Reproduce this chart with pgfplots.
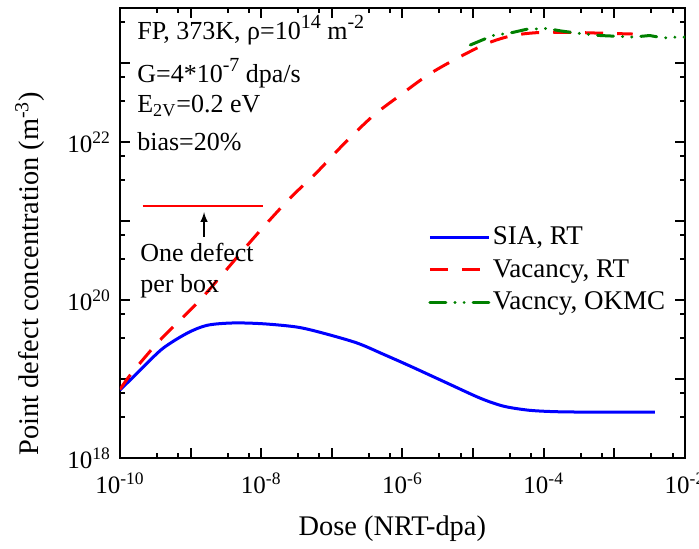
\documentclass[border=0pt]{standalone}
\usepackage{fontspec}
\setmainfont{Liberation Serif}
\usepackage{pgfplots}
\pgfplotsset{compat=1.18}
\definecolor{cblue}{RGB}{0,0,255}
\definecolor{cred}{RGB}{255,0,0}
\definecolor{cgreen}{RGB}{0,128,0}
\newcommand{\sups}[1]{\raisebox{0.42em}{\fontsize{10}{10}\selectfont #1}}
\begin{document}
\fontsize{13}{16}\selectfont
\begin{tikzpicture}[font=\fontsize{13}{16}\selectfont]
\useasboundingbox (-60pt,-45pt) rectangle (289.5pt,229pt);
\begin{axis}[
  at={(0,0)}, anchor=south west,
  scale only axis, width=282.5pt, height=225pt,
  xmode=log, ymode=log,
  xmin=1e-10, xmax=1e-2, ymin=1e18, ymax=5e23,
  axis line style={line width=1.4pt},
  every tick/.style={black, line width=1pt},
  major tick length=5pt, minor tick length=2.5pt,
  tick align=inside,
  xtick={1e-10,1e-9,1e-8,1e-7,1e-6,1e-5,1e-4,1e-3,1e-2},
  xticklabels={10\textsuperscript{-10},,10\textsuperscript{-8},,10\textsuperscript{-6},,10\textsuperscript{-4},,10\textsuperscript{-2}},
  minor xtick={3.33e-10,6.67e-10,3.33e-9,6.67e-9,3.33e-8,6.67e-8,3.33e-7,6.67e-7,3.33e-6,6.67e-6,3.33e-5,6.67e-5,3.33e-4,6.67e-4,3.33e-3,6.67e-3},
  ytick={1e18,1e19,1e20,1e21,1e22,1e23},
  yticklabels={10\textsuperscript{18},,10\textsuperscript{20},,10\textsuperscript{22},},
  minor ytick={3.33e18,6.67e18,3.33e19,6.67e19,3.33e20,6.67e20,3.33e21,6.67e21,3.33e22,6.67e22,3.33e23},
  tick label style={font=\fontsize{12.5}{15}\selectfont},
  xticklabel style={yshift=-3pt},
  xlabel={Dose (NRT-dpa)},
  ylabel={Point defect concentration (m\textsuperscript{-3})},
  label style={font=\fontsize{14.2}{17}\selectfont},
  xlabel style={at={(axis description cs:0.482,-0.158)}, anchor=center},
  ylabel style={at={(axis description cs:-0.159,0.41)}, anchor=center},
  legend style={draw=none, fill=none, at={(0.545,0.528)}, anchor=north west,
    inner sep=0pt, font=\fontsize{13.5}{16}\selectfont,
    nodes={text height=10.5pt, text depth=3.3pt, inner sep=1.3pt}},
  legend cell align=left,
  legend image code/.code={\draw[#1] (0pt,0pt) -- (29.5pt,0pt);},
]
\addplot[cblue, line width=1.5pt, smooth] coordinates {
(1e-10,7.24e18) (2.12e-10,1.41e19) (4.06e-10,2.45e19) (8.89e-10,3.80e19)
(1.71e-9,4.79e19) (3.98e-9,5.13e19) (1.06e-8,5.01e19) (3.21e-8,4.55e19)
(7.48e-8,3.82e19) (2.27e-7,2.86e19) (5.30e-7,2.07e19) (1.28e-6,1.46e19)
(4.27e-6,8.9e18) (1.25e-5,5.74e18) (2.65e-5,4.55e18) (5.79e-5,4.05e18)
(1.23e-4,3.88e18) (3.26e-4,3.82e18) (3.76e-3,3.82e18)
};
\addlegendentry{SIA, RT}
\addplot[cred, line width=1.5pt, smooth, dash pattern=on 9pt off 7pt] coordinates {
(1e-10,7.4e18) (1.48e-10,1.2e19) (3.68e-10,3.1e19) (1.23e-9,9.12e19)
(2.61e-9,1.95e20) (5.52e-9,4.27e20) (1.06e-8,8.32e20) (2.55e-8,1.95e21)
(6.17e-8,4.17e21) (1.45e-7,9.33e21) (3.80e-7,2.14e22) (9.12e-7,3.89e22)
(2.29e-6,7.08e22) (5.89e-6,1.15e23) (1.58e-5,1.78e23) (3.63e-5,2.24e23)
(8.91e-5,2.45e23) (2.57e-4,2.45e23) (6.31e-4,2.40e23) (1.82e-3,2.34e23)
};
\addlegendentry{Vacancy, RT}
\addplot[cgreen, line width=1.5pt, line cap=round,
  dash pattern=on 8pt off 4.5pt on 0.1pt off 4.5pt on 0.1pt off 4.5pt] coordinates {
(9.12e-6,1.70e23) (1.91e-5,2.24e23) (3.63e-5,2.45e23) (5.75e-5,2.69e23)
(1.12e-4,2.75e23) (1.70e-4,2.57e23) (2.95e-4,2.40e23) (6.31e-4,2.24e23)
(1.10e-3,2.19e23) (1.82e-3,2.14e23) (3.16e-3,2.24e23) (4.90e-3,2.09e23)
(7.76e-3,2.14e23) (1e-2,2.14e23)
};
\addlegendentry{Vacncy, OKMC}
\addplot[cred, line width=0.9pt, forget plot] coordinates {(2.1e-10,1.55e21) (1.06e-8,1.55e21)};
\draw[-latex, line width=0.7pt] (axis cs:1.55e-9,6.3e20) -- (axis cs:1.55e-9,1.3e21);
\node[anchor=base west, inner sep=0pt] at (rel axis cs:0.030,0.931) {FP, 373K, ρ=10\sups{14} m\sups{-2}};
\node[anchor=base west, inner sep=0pt] at (rel axis cs:0.030,0.834) {G=4*10\sups{-7} dpa/s};
\node[anchor=base west, inner sep=0pt] at (rel axis cs:0.030,0.767) {E\textsubscript{2V}=0.2 eV};
\node[anchor=base west, inner sep=0pt] at (rel axis cs:0.030,0.684) {bias=20\%};
\node[anchor=base west, inner sep=0pt] at (rel axis cs:0.0354,0.436) {One defect};
\node[anchor=base west, inner sep=0pt] at (rel axis cs:0.0354,0.367) {per box};
\end{axis}
\end{tikzpicture}
\end{document}
